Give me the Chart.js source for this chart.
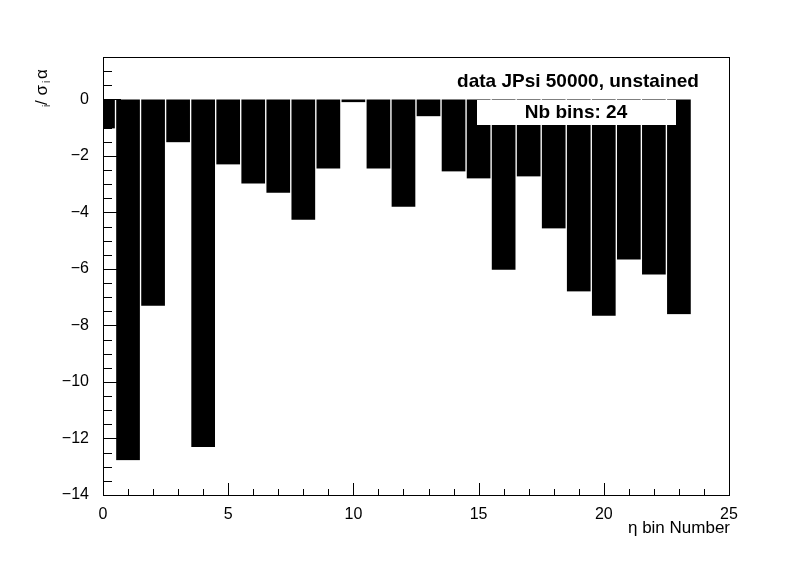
<!DOCTYPE html>
<html><head><meta charset="utf-8">
<script src="https://cdn.jsdelivr.net/npm/chart.js@4"></script>
<style>html,body{margin:0;background:#fff}#w{width:796px;height:572px}</style>
</head><body><div id="w"><canvas id="c"></canvas></div>
<script>
const binCenters=[0,1,2,3,4,5,6,7,8,9,10,11,12,13,14,15,16,17,18,19,20,21,22,23];
const values=[-1.03,-12.77,-7.3,-1.52,-12.3,-2.3,-2.98,-3.3,-4.26,-2.45,-0.1,-2.45,-3.8,-0.6,-2.55,-2.8,-6.03,-2.73,-4.57,-6.8,-7.66,-5.67,-6.2,-7.6];
const titleText='data JPsi 50000, unstained';
const binsText='Nb bins: 24';
const F='"Liberation Sans", Arial, sans-serif';
const deco={id:'deco',afterDraw(ch){
 const c=ch.ctx,a=ch.chartArea,x=ch.scales.x,y=ch.scales.y;
 c.save();c.strokeStyle='#000';c.lineWidth=1;
 c.strokeRect(a.left+0.5,a.top+0.5,a.right-a.left,a.bottom-a.top);
 c.beginPath();
 for(let v=0;v<=25;v+=1){const p=Math.round(x.getPixelForValue(v))+0.5;const L=v%5===0?12:6;c.moveTo(p,a.bottom);c.lineTo(p,a.bottom-L);}
 for(let v=-14;v<=1.5;v+=0.5){const p=Math.round(y.getPixelForValue(v))+0.5;const L=v%2===0?18:9;c.moveTo(a.left,p);c.lineTo(a.left+L,p);}
 c.stroke();
 c.fillStyle='#fff';c.fillRect(477,100,199,25);
 c.fillStyle='#000';c.font='bold 19px '+F;c.textAlign='center';c.textBaseline='middle';
 c.fillText(titleText,578,82);c.fillText(binsText,576,113);
 c.font='17px '+F;c.textAlign='right';c.fillText('η bin Number',730,528);
 c.translate(42,78);c.rotate(-Math.PI/2);c.textAlign='center';
 c.fillText('α',4,0);c.font='10px '+F;c.fillText('i',-4,5);c.font='17px '+F;c.fillText('/ σ',-17,0);c.font='10px '+F;c.fillText('i',-28,5);
 c.restore();}};
new Chart(document.getElementById('c'),{type:'bar',
 data:{datasets:[{data:binCenters.map((b,i)=>({x:b,y:values[i]})),backgroundColor:'#000',borderColor:'#fff',borderWidth:{left:1,right:1},borderSkipped:false,barPercentage:1,categoryPercentage:1}]},
 options:{responsive:true,maintainAspectRatio:false,animation:false,
  layout:{padding:{top:57,right:67,left:0,bottom:0}},
  plugins:{legend:{display:false},tooltip:{enabled:false}},
  scales:{
   x:{type:'linear',min:0,max:25,offset:false,grid:{display:false},border:{display:false},
      afterFit:s=>{s.height=77;},
      ticks:{stepSize:5,color:'#000',font:{size:16,family:F},padding:2,maxRotation:0}},
   y:{min:-14,max:1.5,grid:{display:false},border:{display:false},
      afterFit:s=>{s.width=103;},
      ticks:{stepSize:2,color:'#000',font:{size:16,family:F},padding:6,callback:v=>v%2===0?(v<0?'−'+(-v):v):''}}
  }},plugins:[deco]});
</script></body></html>
